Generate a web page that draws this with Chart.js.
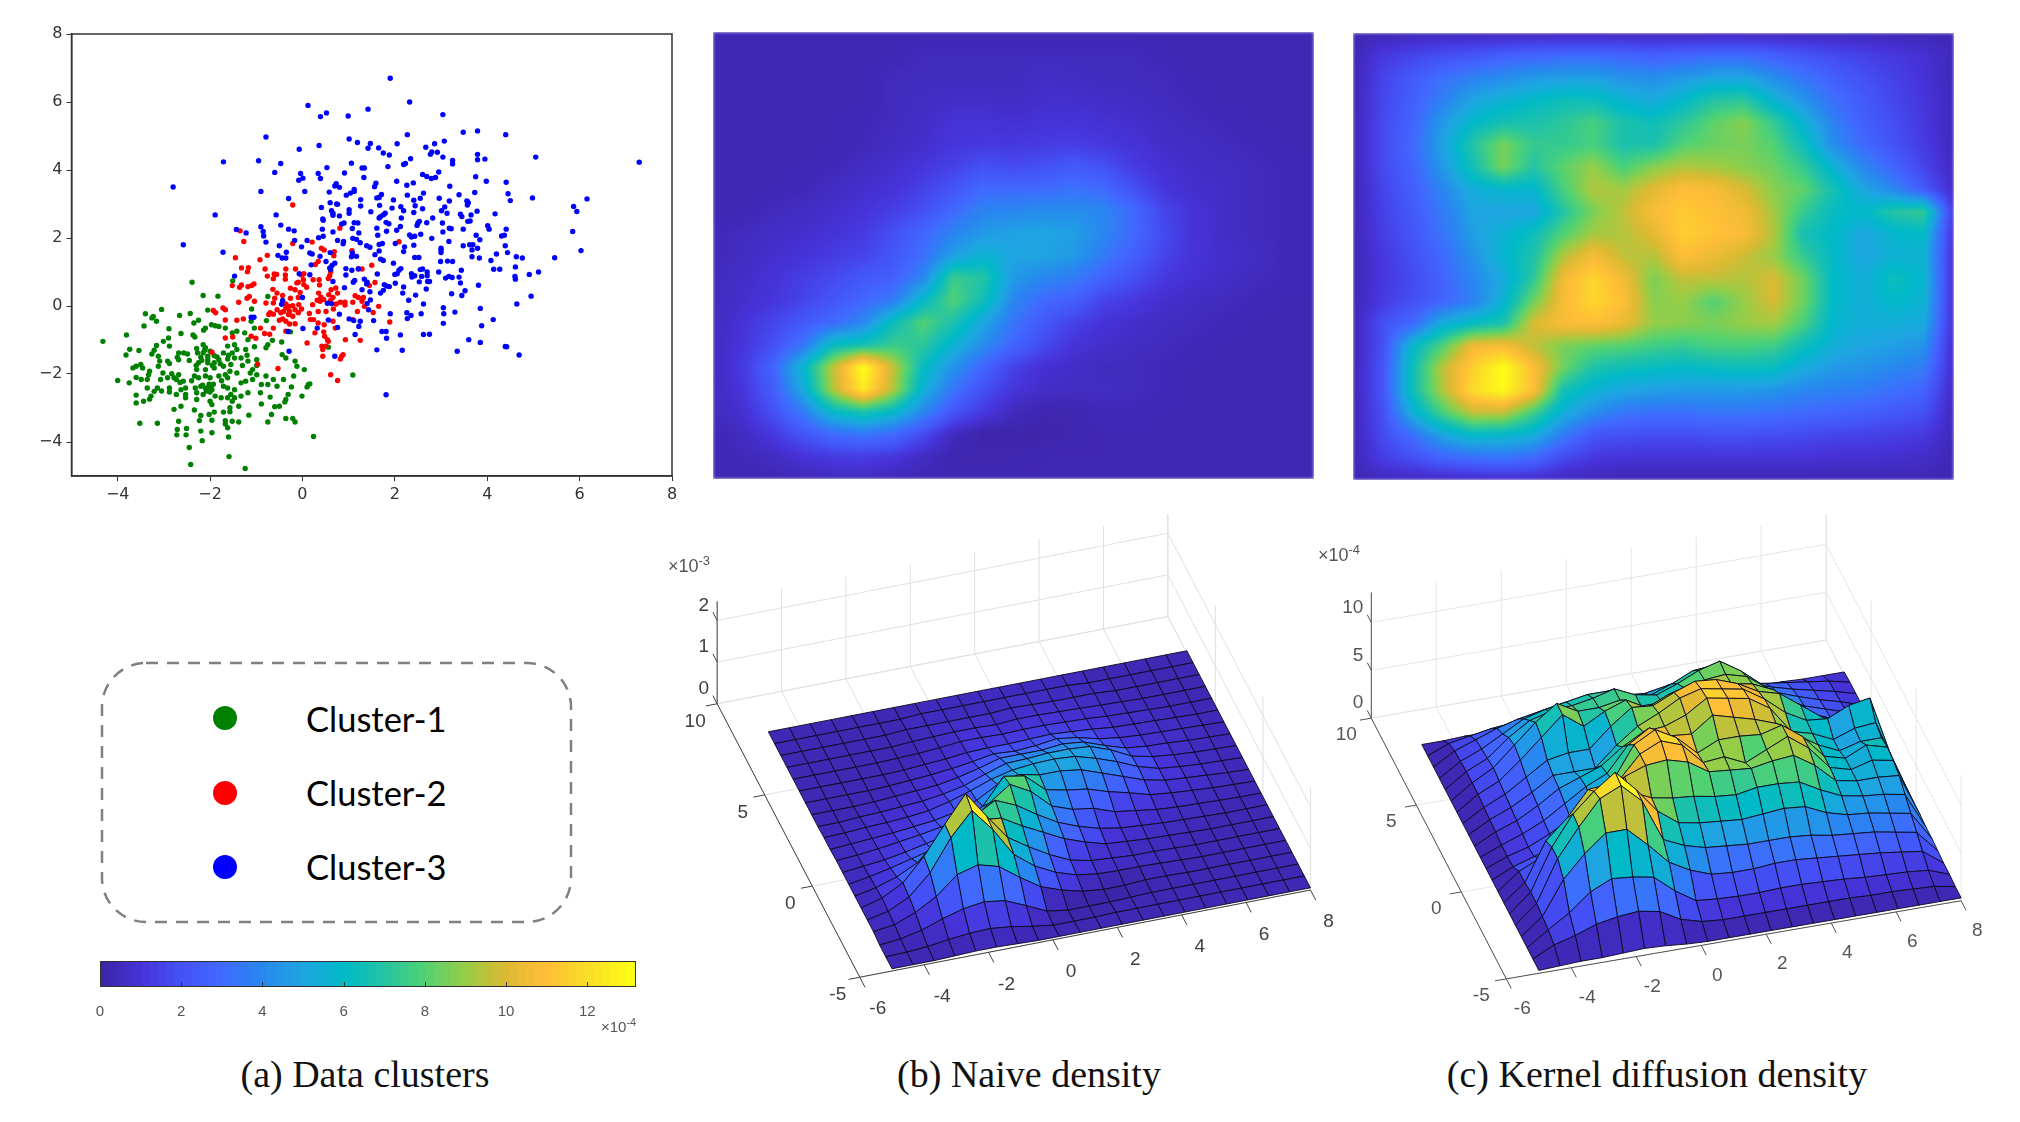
<!DOCTYPE html>
<html><head><meta charset="utf-8">
<script src="https://cdn.jsdelivr.net/npm/chart.js@4"></script>
<style>
html,body{margin:0;padding:0;background:#fff;width:2020px;height:1122px;overflow:hidden}
canvas{position:absolute;display:block}
.wrap{position:absolute;overflow:hidden}
.wrap canvas{left:0;top:0;filter:blur(1.4px)}
.t{position:absolute;white-space:nowrap}
.cap{font-family:"Liberation Serif",serif;font-size:38px;color:#111;transform:translateX(-50%);line-height:46px}
.leg{font-family:Lato,"Open Sans",sans-serif;font-size:34.5px;color:#000;line-height:40px}
.mul{font-family:"Liberation Sans",sans-serif;color:#555}
.mul sup{font-size:.72em;vertical-align:.55em;line-height:0}
</style></head><body>
<canvas id="scatter" width="700" height="510" style="left:0;top:0"></canvas>
<div class="wrap" style="left:713px;top:32px;width:601px;height:447px"><canvas id="heatB" width="601" height="447"></canvas></div>
<div class="wrap" style="left:1353px;top:33px;width:601px;height:447px"><canvas id="heatC" width="601" height="447"></canvas></div>
<canvas id="surfB" width="680" height="530" style="left:660px;top:500px"></canvas>
<canvas id="surfC" width="720" height="530" style="left:1300px;top:500px"></canvas>
<canvas id="bar" width="580" height="70" style="left:80px;top:955px"></canvas>

<svg width="520" height="300" style="position:absolute;left:80px;top:640px">
<rect x="22" y="23" width="469" height="259" rx="44" ry="44" fill="none" stroke="#808080" stroke-width="2.5" stroke-dasharray="12 9"/>
<circle cx="145" cy="78" r="12" fill="#008000"/><circle cx="145" cy="153" r="12" fill="#ff0000"/><circle cx="145" cy="227" r="12" fill="#0000ff"/>
</svg>
<div class="t leg" style="left:306px;top:699px">Cluster-1</div>
<div class="t leg" style="left:306px;top:773px">Cluster-2</div>
<div class="t leg" style="left:306px;top:847px">Cluster-3</div>
<div class="t mul" style="right:1384px;top:1018px;font-size:15px">×10<sup>-4</sup></div>
<div class="t mul" style="left:668px;top:556px;font-size:18px">×10<sup>-3</sup></div>
<div class="t mul" style="left:1318px;top:545px;font-size:18px">×10<sup>-4</sup></div>
<div class="t cap" style="left:365px;top:1051px">(a) Data clusters</div>
<div class="t cap" style="left:1029px;top:1051px">(b) Naive density</div>
<div class="t cap" style="left:1657px;top:1051px">(c) Kernel diffusion density</div>

<script>
// ---------- scatter data (x, y) ----------
const clusterBlue=[[1.9,6.7],[2.32,6],[.12,5.9],[.52,5.68],[.39,5.57],[.99,5.59],[1.42,5.79],[3.04,5.63],[3.48,5.11],[3.79,5.15],[4.4,5.04],[2.27,5.04],[-.79,4.97],[1.01,4.91],[1.19,4.81],[.36,4.72],[-.07,4.61],[1.47,4.78],[1.42,4.64],[1.65,4.65],[2.05,4.77],[2.67,4.67],[2.86,4.77],[3.07,4.85],[1.75,4.5],[1.88,4.44],[2.8,4.53],[2.92,4.52],[2.77,4.46],[3.04,4.38],[2.34,4.33],[3.79,4.46],[3.79,4.3],[3.95,4.32],[5.05,4.38],[7.29,4.23],[-1.71,4.24],[-.95,4.27],[-.47,4.19],[1.06,4.2],[3.25,4.28],[3.25,4.18],[2.23,4.19],[2.19,4.16],[.53,4.07],[1.29,4.06],[1.34,4.06],[1.85,4.1],[-.6,3.93],[-.04,3.9],[.34,3.9],[.91,3.91],[2.6,3.87],[2.69,3.81],[2.79,3.75],[2.88,3.78],[2.95,3.94],[1.33,3.78],[3.75,3.8],[.01,3.76],[-.08,3.7],[.39,3.75],[3.98,3.67],[2.04,3.67],[4.41,3.64],[1.59,3.61],[1.56,3.51],[.73,3.6],[.7,3.53],[.8,3.49],[2.4,3.62],[2.26,3.55],[3.19,3.52],[-2.8,3.5],[-.9,3.37],[.05,3.37],[.58,3.35],[1.12,3.43],[1.12,3.37],[1.04,3.32],[.95,3.26],[2.62,3.32],[3.73,3.34],[3.39,3.27],[4.45,3.3],[1.71,3.28],[1.66,3.19],[1.61,3.18],[4.98,3.18],[6.16,3.15],[2.27,3.26],[2.55,3.17],[2.41,3.11],[2.96,3.17],[4.5,3.1],[1.97,3.12],[-.3,3.16],[1.26,3.13],[3.18,3.09],[3.56,3.09],[3.59,3.04],[3.57,2.97],[.6,3.04],[.74,3],[.76,2.99],[1.67,2.96],[1.26,2.94],[2.13,2.92],[2.44,2.95],[5.87,2.93],[5.94,2.78],[.41,2.9],[1.94,2.88],[3.08,2.91],[2.6,2.86],[1.01,2.83],[2.19,2.8],[3.01,2.8],[1.48,2.77],[2.41,2.75],[3.78,2.79],[.63,2.8],[.66,2.73],[3.13,2.73],[3.42,2.7],[4.17,2.71],[3.45,2.63],[1.01,2.73],[1.79,2.73],[1.75,2.68],[1.69,2.63],[-.57,2.68],[-1.89,2.68],[.66,2.67],[.8,2.65],[1.66,2.59],[2.14,2.59],[2.82,2.59],[.44,2.56],[.45,2.52],[3.65,2.68],[3.63,2.5],[3.58,2.49],[2.53,2.49],[2.69,2.45],[2.5,2.44],[.9,2.44],[1.12,2.45],[1.2,2.44],[1.81,2.46],[1.87,2.42],[3.03,2.44],[2.48,2.37],[-.47,2.38],[.85,2.41],[-.9,2.33],[2.12,2.34],[1.61,2.29],[4.01,2.36],[4.04,2.26],[3.18,2.29],[3.22,2.27],[3.48,2.26],[4.41,2.26],[1.08,2.28],[.43,2.26],[1.82,2.2],[3.04,2.18],[-.3,2.26],[-.18,2.21],[-.85,2.19],[-1.43,2.25],[-1.22,2.15],[2.04,2.23],[.66,2.18],[5.85,2.19],[1.22,2.15],[1.63,2.08],[-.84,2.06],[2.32,2.09],[2.36,2.03],[2.43,2.05],[2.56,2.11],[3.76,2.08],[4.31,2.06],[4.37,2.08],[.45,2.05],[.35,2.01],[2.8,1.99],[1.09,1.99],[1.17,1.96],[3.84,1.95],[-.17,1.93],[.1,1.93],[-.79,1.88],[.76,1.93],[.89,1.9],[3.17,1.9],[1.25,1.86],[.88,1.83],[1.73,1.84],[1.66,1.81],[2.01,1.84],[-2.58,1.8],[4.39,1.77],[3.48,1.77],[3.62,1.8],[3.69,1.8],[2.41,1.79],[-.5,1.77],[-.02,1.74],[1.39,1.77],[1.46,1.73],[2.21,1.74],[3.79,1.7],[3,1.7],[3,1.64],[1.66,1.62],[3,1.57],[2.19,1.6],[3.67,1.65],[6.03,1.63],[-1.72,1.58],[-.35,1.58],[.16,1.56],[.21,1.53],[1.08,1.56],[.6,1.57],[4.2,1.53],[4.44,1.57],[-.53,1.49],[1.57,1.51],[1.06,1.45],[1.17,1.46],[3.67,1.45],[4.63,1.45],[4.76,1.41],[5.46,1.42],[.38,1.46],[-.44,1.41],[-.36,1.41],[2.43,1.43],[2.52,1.43],[3.83,1.41],[1.69,1.38],[1.75,1.34],[.51,1.31],[3.14,1.32],[3.25,1.31],[2.99,1.31],[4.08,1.34],[1.97,1.26],[.19,1.21],[.7,1.26],[.64,1.19],[4.61,1.15],[1.21,1.09],[.94,1.1],[4.14,1.08],[4.27,1.08],[2.13,1.1],[2.09,1.05],[1.07,1.05],[3.44,1.05],[2.55,1.07],[2.6,1.09],[.61,1.07],[.59,1.12],[2.7,1],[5.11,1],[2,.93],[2.05,.95],[2.95,1],[4.91,.93],[1.62,.94],[-.07,.95],[.16,.92],[.94,.91],[2.36,.95],[2.37,.85],[2.43,.89],[2.58,.87],[2.7,.89],[4.6,.87],[4.61,.79],[3.39,.85],[3.1,.82],[3.17,.87],[3.24,.84],[-1.47,.88],[1.34,.79],[1.13,.75],[1.1,.7],[1.4,.7],[1.39,.65],[.66,.72],[2.01,.67],[2.53,.71],[2.71,.72],[2.75,.72],[3.42,.68],[3.81,.61],[2.19,.56],[1.77,.63],[1.82,.59],[1.88,.57],[.91,.54],[1.29,.48],[2.68,.5],[3.52,.45],[1.75,.46],[1.69,.38],[1.46,.42],[2.17,.38],[2.45,.32],[3.23,.36],[3.45,.31],[4.95,.29],[2.3,.17],[-.43,.16],[0,.25],[1.47,.18],[4.64,.06],[2.62,.06],[-.45,.05],[1.4,.07],[.54,.08],[.63,.07],[3.05,-.05],[3.85,-.07],[1.43,-.11],[3.3,-.18],[2.26,-.2],[.8,-.24],[2.57,-.23],[1.9,-.23],[3.06,-.23],[2.35,-.28],[2.27,-.37],[-1.11,-.33],[-1.05,-.33],[4.13,-.4],[1.01,-.38],[1.11,-.43],[1.25,-.45],[.56,-.41],[1.54,-.43],[3.05,-.51],[1.22,-.6],[.76,-.63],[3.88,-.58],[.01,-.66],[.32,-.65],[1.72,-.75],[1.81,-.75],[-.31,-.75],[1.14,-.84],[2.12,-.85],[2.62,-.84],[2.75,-.83],[1.82,-.95],[3.6,-.99],[3.85,-1.07],[4.39,-1.19],[4.42,-1.2],[1.61,-1.29],[2.16,-1.3],[3.35,-1.33],[-.29,-1.33],[4.69,-1.44],[.7,-1.48],[1.81,-2.61]];
const clusterRed=[[-.21,2.97],[.81,2.29],[-1.35,2.21],[-1.27,1.9],[2.09,1.89],[-.21,1.84],[.21,1.88],[.41,1.7],[.47,1.65],[.69,1.6],[1.07,1.63],[.68,1.48],[-.76,1.49],[-1.45,1.42],[-.92,1.36],[.34,1.31],[.28,1.22],[1.5,1.2],[-1.32,1.12],[-1.17,1.13],[-1.19,1.01],[-.81,1.09],[-.36,1.09],[-.15,1.09],[1.21,1.1],[1.29,1.09],[.61,1.01],[-.61,.94],[-.56,.93],[-.37,.91],[.03,.95],[-.02,.91],[-.76,.88],[.59,.89],[.56,.81],[-.63,.8],[-.37,.79],[.23,.77],[.36,.77],[.02,.77],[1.57,.69],[-.09,.7],[-.12,.68],[-1.52,.6],[-1.32,.62],[-1.36,.55],[-1.18,.57],[-1.05,.65],[-1.1,.6],[1.45,.6],[.03,.63],[.09,.55],[-.26,.52],[-.16,.48],[-.64,.49],[.37,.62],[-.55,.38],[.62,.48],[.72,.53],[.35,.38],[-.05,.4],[-.43,.31],[-1.15,.28],[-1.2,.23],[1.14,.3],[1.21,.25],[1.32,.25],[.57,.33],[.66,.25],[.76,.38],[.4,.26],[-.6,.23],[-.09,.25],[-.26,.23],[.32,.17],[.38,.14],[.46,.19],[.61,.16],[.82,.11],[.92,.11],[1.29,.14],[1.09,.11],[-.63,.09],[-.79,.09],[-1.38,.11],[-1.04,.14],[-.36,.06],[-.29,-.01],[-.21,.01],[-.08,.04],[.22,.04],[.73,.06],[1.65,-.01],[.67,-.09],[.92,.03],[1.19,-.16],[1.34,-.01],[1.53,-.19],[-.36,-.06],[-.41,-.16],[-.28,-.16],[-.16,-.11],[-.02,-.09],[-.55,-.11],[-.7,-.2],[-.73,-.25],[-.63,-.24],[-.47,-.2],[-.3,-.25],[-.09,-.2],[.15,-.22],[.34,-.16],[.51,-.16],[-1.93,-.13],[-1.88,-.2],[-1.67,-.11],[-1.72,-.06],[-1.28,-.38],[-1.42,-.42],[-1.67,-.41],[-.43,-.38],[-.5,-.42],[-.36,-.45],[-.21,-.3],[.17,-.4],[.24,-.4],[.34,-.5],[-.16,-.52],[-.28,-.53],[1.89,-.47],[1.09,-.4],[.47,-.55],[.66,-.45],[.71,-.65],[-.63,-.65],[-.91,-.65],[-.36,-.74],[-.82,-.81],[-.71,-.83],[.46,-.76],[.27,-.79],[.48,-.89],[-1.11,-.89],[-1.01,-.95],[-1.67,-.94],[-1.51,-.91],[.54,-.99],[.56,-1.04],[.93,-.99],[1.25,-1.01],[.1,-1.09],[.42,-1.18],[.44,-1.28],[-1.96,-1.36],[.88,-1.43],[.44,-1.48],[.85,-1.48],[.82,-1.56],[-.97,-1.71],[-.53,-1.84],[.61,-2.02],[.76,-2.19],[.51,-1.18]];
const clusterGreen=[[-2.39,.7],[-1.51,.74],[-2.15,.31],[-1.83,.29],[-.75,.28],[-3.05,-.1],[-2.05,-.12],[-3.4,-.23],[-3.26,-.35],[-3.16,-.45],[-3.23,-.31],[-2.66,-.28],[-2.43,-.22],[-2.25,-.42],[-2.35,-.5],[-1.1,-.09],[-3.43,-.59],[-2.89,-.67],[-3.81,-.85],[-2.63,-.81],[-2.37,-.85],[-2.33,-.91],[-4.32,-1.04],[-1.97,-.55],[-1.81,-.6],[-1.89,-.58],[-1.67,-.65],[-1.52,-.79],[-2.1,-.65],[-2.14,-.71],[-1.42,-.74],[-1.25,-.79],[-.78,-.43],[-1.04,-.65],[-1.11,-.45],[-.26,-.76],[-.45,-1.06],[-.65,-1.01],[-2.9,-.94],[-3.01,-1.04],[-3.16,-1.16],[-3.21,-1.3],[-3.26,-1.41],[-3.74,-1.27],[-3.54,-1.31],[-3.82,-1.44],[-2.88,-1.18],[-2.68,-1.38],[-2.57,-1.38],[-2.71,-1.51],[-2.68,-1.58],[-2.49,-1.41],[-2.29,-1.25],[-2.15,-1.14],[-2.1,-1.23],[-2,-1.33],[-2.27,-1.38],[-2.15,-1.38],[-2.2,-1.51],[-2.05,-1.48],[-1.91,-1.46],[-1.81,-1.58],[-1.71,-1.38],[-1.62,-1.18],[-1.47,-1.14],[-1.42,-1.28],[-1.23,-1.28],[-1.18,-.99],[-1.04,-1.2],[-.79,-1.23],[-.75,-1.14],[-1.52,-1.38],[-1.33,-1.53],[-1.47,-1.53],[-1.62,-1.56],[-1.91,-1.67],[-2.05,-1.67],[-2.25,-1.67],[-.99,-1.58],[-1.18,-1.62],[-.44,-1.43],[-.36,-1.53],[-.16,-1.62],[-.12,-1.77],[.04,-1.87],[.56,-1.21],[-3.12,-1.48],[-3.09,-1.62],[-2.92,-1.62],[-2.88,-1.69],[-3.12,-1.77],[-3.6,-1.77],[-3.5,-1.72],[-3.46,-1.82],[-3.67,-1.82],[-3.31,-1.92],[-3.02,-1.97],[-2.83,-1.99],[-2.68,-2.02],[-2.29,-1.87],[-2.1,-1.87],[-1.91,-1.82],[-1.71,-1.77],[-1.57,-1.92],[-1.42,-1.97],[-1.08,-1.87],[-.99,-1.75],[-1.13,-1.97],[-.79,-2.06],[-.63,-2.16],[-.41,-2.16],[-.19,-2.06],[.13,-2.31],[.16,-2.29],[.1,-2.38],[1.09,-2.03],[-4,-2.19],[-3.75,-2.26],[-3.49,-2.16],[-3.36,-2.16],[-3.33,-2.02],[-3.07,-2.16],[-2.92,-2.11],[-2.73,-2.16],[-2.58,-2.21],[-2.78,-2.11],[-2.34,-2.06],[-2.25,-2.11],[-2.1,-2.06],[-2,-2.11],[-1.81,-2.06],[-1.67,-2.02],[-1.62,-2.11],[-1.33,-2.26],[-1.23,-2.21],[-1.08,-2.16],[-.99,-2.02],[-.75,-2.31],[-.89,-2.31],[-.55,-2.36],[-.24,-2.38],[-3.36,-2.41],[-3.14,-2.41],[-2.88,-2.41],[-2.63,-2.46],[-2.53,-2.41],[-2.32,-2.41],[-2.2,-2.36],[-2.05,-2.41],[-1.96,-2.46],[-1.71,-2.36],[-1.62,-2.41],[-1.47,-2.46],[-1.18,-2.55],[-3.21,-2.51],[-2.88,-2.53],[-2.53,-2.6],[-2.29,-2.55],[-2.15,-2.6],[-2,-2.53],[-3.6,-2.62],[-3.28,-2.65],[-2.73,-2.6],[-.31,-2.6],[-.01,-2.65],[-1.89,-2.65],[-1.76,-2.7],[-1.62,-2.7],[-1.47,-2.7],[-1.33,-2.65],[-.91,-2.55],[-.7,-2.68],[-3.31,-2.74],[-3.44,-2.8],[-3.6,-2.85],[-2.53,-2.7],[-2.29,-2.75],[-2,-2.8],[-1.52,-2.8],[-.36,-2.75],[-.38,-2.82],[-.89,-2.88],[-2.63,-2.95],[-2.78,-3.04],[-2.34,-3.06],[-1.96,-2.9],[-1.38,-2.95],[-1.57,-2.99],[-.6,-2.96],[-.5,-2.95],[-1.91,-3.12],[-1.71,-3.12],[-1.57,-3.11],[-2.02,-3.19],[-2.2,-3.22],[-1.16,-3.21],[-.67,-3.19],[-.36,-3.31],[-.21,-3.31],[-.16,-3.41],[-.75,-3.41],[-2.68,-3.39],[-2.23,-3.37],[-1.96,-3.36],[-1.67,-3.37],[-1.52,-3.39],[-1.38,-3.41],[-3.52,-3.45],[-3.14,-3.45],[-2.51,-3.6],[-2.71,-3.63],[-2.72,-3.79],[-2.52,-3.79],[-2.2,-3.68],[-1.96,-3.73],[-1.6,-3.85],[.24,-3.84],[-2.17,-3.96],[-2.45,-4.16],[-1.59,-4.43],[-2.42,-4.66],[-1.24,-4.78],[-1.62,-3.58],[-1.67,-3.47],[-2.02,-2.3],[-2.1,-2.42],[-1.98,-2.38],[-2.16,-2.33],[-2.08,-2.5],[-1.93,-2.3],[-2.05,-1.58],[-2.18,-1.6],[-1.85,-1.5],[-1.95,-1.75],[-1.78,-1.7],[-2.12,-1.3],[-1.6,-1.45],[-1.55,-1.72],[-1.75,-2.2],[-1.55,-2.6],[-2.3,-1.75],[-2.4,-2.2],[-2.45,-1.6],[-1.3,-1.75],[-1.2,-1.45],[-3.6,-2.1],[-3.05,-2.5],[-2.65,-2.25]];
const axisTicksA=[-4,-2,0,2,4,6,8];

// ---------- density grids: nodes at gridX / gridY, rows listed from y = 8 down to y = -5 ----------
const gridX=[-5,-4.35,-3.7,-3.05,-2.4,-1.75,-1.1,-.45,.2,.85,1.5,2.15,2.8,3.45,4.1,4.75,5.4,6.05,6.7,7.35,8];
const gridY=[8,7.35,6.7,6.05,5.4,4.75,4.1,3.45,2.8,2.15,1.5,.85,.2,-.45,-1.1,-1.75,-2.4,-3.05,-3.7,-4.35,-5];
// (b) naive density, in colour-bar levels; the peak level 13.2 is 2.35 x 10^-3 on the z axis
const naiveLevels=[
[.3,.3,.3,.3,.3,.3,.3,.3,.3,.3,.3,.3,.3,.3,.3,.3,.3,.3,.3,.3,.3],
[.3,.3,.3,.3,.3,.3,.3,.5,.5,.5,.5,.5,.5,.5,.5,.3,.3,.3,.3,.3,.3],
[.3,.3,.3,.3,.3,.3,.5,.5,.5,.5,.5,.7,.6,.5,.5,.5,.3,.3,.3,.3,.3],
[.3,.3,.3,.3,.3,.3,.5,.6,.7,.7,.6,.8,.8,.7,.6,.5,.4,.3,.3,.3,.3],
[.3,.3,.3,.3,.3,.4,.5,.7,1,1,.9,1,1,.9,.8,.6,.5,.4,.3,.3,.3],
[.3,.3,.3,.3,.3,.4,.6,.8,1.1,1.2,1.2,1.3,1.4,1.2,1,.7,.6,.5,.4,.3,.3],
[.3,.3,.3,.3,.4,.6,.8,1.1,1.5,2,1.8,2,2.4,2,1.3,.9,.7,.6,.5,.4,.3],
[.3,.3,.3,.4,.6,.8,1,1.5,2.2,3,3,3,3.3,3,2,1.1,.8,.7,.5,.4,.3],
[.3,.3,.5,.6,.8,1,1.4,2,3,3.9,4,4.2,4.2,4,3,1.6,1,.7,.5,.4,.3],
[.4,.5,.7,.8,1,1.3,2,2.9,3.9,4.6,4.9,5,4.8,4,3,1.8,1,.7,.5,.4,.3],
[.4,.6,.8,1,1.3,1.6,2.2,3.2,4.8,5.6,5,5,4.6,3.6,2.6,1.6,1,.8,.6,.4,.3],
[.5,.7,1,1.4,1.8,2.3,2.6,4,7.5,7,4.6,4,3.6,2.7,2,1.2,.9,.7,.5,.4,.3],
[.5,.8,1.1,1.6,2.2,2.9,3.6,6,8,6.5,4,3,2.6,1.6,1.2,.8,.6,.5,.4,.3,.3],
[.5,1,1.6,2.3,3,4,6.4,8,6.8,5,3.4,2.3,1.5,1,.8,.6,.5,.4,.3,.3,.3],
[.5,1.1,2,3.4,6.2,6.6,7.5,7.2,5.6,4.2,2.8,1.8,1,.8,.6,.5,.4,.3,.3,.3,.3],
[.5,1.3,2.8,5.8,9.6,13.2,9.6,6.2,4.4,2.8,1.5,.9,.7,.5,.5,.4,.3,.3,.3,.3,.3],
[.5,1.1,2.5,5.2,9.4,12.5,9.4,5.5,3.4,2,1.1,.7,.6,.6,.5,.4,.3,.3,.3,.3,.3],
[.5,.9,2,3.6,6,6.8,6,4,2.2,1.2,.5,.2,.2,.4,.4,.3,.3,.3,.3,.3,.3],
[.3,.6,1.2,2.2,3,3.4,3,1.8,.5,.1,.1,.1,.2,.3,.3,.3,.3,.3,.3,.3,.3],
[.3,.4,.6,1,1.3,1.4,1.1,.6,.2,.2,.2,.3,.3,.3,.3,.3,.3,.3,.3,.3,.3],
[.3,.3,.3,.4,.5,.5,.4,.3,.3,.3,.3,.3,.3,.3,.3,.3,.3,.3,.3,.3,.3]];
// (c) kernel diffusion density, in units of 10^-4
const diffusionLevels=[
[.3,.3,.4,.4,.4,.4,.4,.4,.4,.4,.4,.4,.4,.4,.4,.4,.4,.4,.3,.3,.3],
[.3,1.2,1.6,2,2.2,2.6,2.8,3,3,2.8,2.6,2.8,3,3,2.6,2.2,1.8,1.5,1.2,.9,.4],
[.3,1.6,2.4,3.2,3.8,4.2,4.6,4.8,4.8,4.4,4.2,4.6,5,5,4.2,3.4,2.6,2,1.5,1,.4],
[.3,1.7,2.6,3.8,5,5.6,6,6.4,6.4,5.6,5.2,6,7,7.2,5.6,4.4,3.2,2.4,1.7,1.1,.4],
[.3,1.8,2.8,4.6,6,6.6,6.8,7.2,7.8,6.8,6.4,7.2,8.2,8.8,7.4,5.6,3.8,2.6,1.9,1.2,.4],
[.3,1.8,3,5,7,8.6,7.4,7.4,7.8,6.8,6.8,8,8.4,8.6,8,6.4,4.2,3,2.1,1.3,.4],
[.3,1.8,2.8,4.6,6.6,8.6,7,8.2,9,7.8,8.8,9.4,9.2,8.8,8.4,7.4,5.6,4,2.8,1.6,.5],
[.3,1.6,2.6,4,5.4,5.8,5.8,7.8,9.4,9.2,10.2,11,10.8,10,8.8,8.2,6.6,5,4,2.4,.6],
[.3,1.5,2.4,3.6,5,5,5,7,8.6,9.6,10.8,11.4,11,10.6,9.2,7.4,6.2,6,7,7.4,1],
[.3,1.4,2.2,3.4,4.8,5.6,6.4,8,9.2,9.4,10.2,11.6,11.2,10.8,9.4,6.6,6,5,5.8,6,.8],
[.3,1.2,2,3,4.4,5.8,6.8,9.4,10.8,9.6,9.4,11,10.4,9.8,9,7.4,6,5,5.6,5.6,.7],
[.3,1.2,1.8,2.8,4,5.2,7.2,10.6,11.8,10.6,8.6,9.6,9.6,9.4,10,8.4,6,5.4,6.4,5.8,.7],
[.3,1.3,2,2.8,3.8,5.6,8.4,10.8,11.8,11,8.8,9,8,9,10,8.4,6,5.4,6,5.6,.7],
[.3,2,3,5.4,6.2,6.8,10,10.8,11,10.4,9,8.8,8.6,9,9.2,7.8,5.8,5.4,5.4,5.2,.7],
[.3,2,6,8,10.6,10.8,9.6,8.6,8.2,8,7.6,7.4,7.8,7.8,7.6,6.4,5.4,5,4.8,4.4,.6],
[.3,2.2,6.5,9.6,11.6,13.2,11,8.4,6.8,6.4,6.2,6,6.2,6.4,6.2,5.2,4.6,4.4,4,3.6,.6],
[.3,2.2,6.5,9.4,12,13,11,6.6,5.6,5,4.8,4.6,4.6,4.6,4.4,4,3.8,3.6,3.2,2.8,.5],
[.3,2,5.5,7.8,9.6,9.6,7.6,5.4,4.2,3.4,3.2,3.2,3.4,3.4,3.2,3,2.8,2.6,2.3,2,.4],
[.3,1.8,3.2,5,6,5.8,5.4,3.6,2.2,2,1.9,1.9,2,2,1.9,1.8,1.6,1.5,1.4,1.2,.4],
[.3,1.4,2,2.8,3.2,3.4,3,1.8,1.2,1,1,1,1,1,1,1,.9,.9,.8,.7,.3],
[.3,.4,.5,.5,.6,.7,.6,.4,.3,.3,.3,.3,.3,.3,.3,.3,.3,.3,.3,.3,.3]];
// colour map stops: level, r, g, b
const colorStops=[[0,60,35,165],[1,70,50,215],[2,68,80,245],[3,65,105,255],[4,40,135,240],[5,30,165,225],[6,0,185,200],[7,35,195,165],[8,80,210,115],[9,150,205,70],[10,220,185,50],[11,255,190,55],[12,250,220,40],[13.2,255,255,20]];
const colorbarTicks=[0,2,4,6,8,10,12];
const zTicksB=[0,1,2], zTicksC=[0,5,10];
const xTicks3D=[-6,-4,-2,0,2,4,6,8], yTicks3D=[-5,0,5,10];

function levelRGB(v){
  const s=colorStops;
  if(v<=s[0][0])return s[0].slice(1);
  for(let k=1;k<s.length;k++)if(v<=s[k][0]){
    const t=(v-s[k-1][0])/(s[k][0]-s[k-1][0]);
    return [1,2,3].map(c=>s[k-1][c]+(s[k][c]-s[k-1][c])*t);
  }
  return s[s.length-1].slice(1);
}
const css=a=>`rgb(${a.map(Math.round).join(',')})`;
const base={responsive:false,animation:false,events:[],devicePixelRatio:1,
  plugins:{legend:{display:false},tooltip:{enabled:false},title:{display:false}}};

// ---------- (a) scatter ----------
const toPts=a=>a.map(p=>({x:p[0],y:p[1]}));
const fixTicks=s=>{s.ticks=axisTicksA.map(v=>({value:v}));};
const axisA=(extra)=>Object.assign({type:'linear',min:-5,max:8,afterBuildTicks:fixTicks,
  grid:{drawOnChartArea:false,color:'#333',tickLength:5,tickWidth:1},
  border:{color:'#333',width:1.5},
  ticks:{autoSkip:false,maxRotation:0,color:'#333',font:{family:'"DejaVu Sans"',size:16},padding:4,
    callback:v=>String(v).replace('-','\u2212')}},extra);
new Chart(document.getElementById('scatter'),{type:'scatter',
  data:{datasets:[
    {label:'Cluster-1',data:toPts(clusterGreen),backgroundColor:'#008000',order:3},
    {label:'Cluster-2',data:toPts(clusterRed),backgroundColor:'#ff0000',order:2},
    {label:'Cluster-3',data:toPts(clusterBlue),backgroundColor:'#0000ff',order:1}]},
  options:Object.assign({},base,{
    layout:{padding:{top:34,right:28,left:0,bottom:0}},
    elements:{point:{radius:2.7,borderWidth:0}},
    scales:{x:axisA({afterFit:s=>{s.height=34;}}),y:axisA({afterFit:s=>{s.width=71.5;}})}}),
  plugins:[{id:'frame',afterDatasetsDraw(c){const a=c.chartArea,x=c.ctx;x.save();x.strokeStyle='#333';x.lineWidth=1.5;
    x.strokeRect(a.left,a.top,a.right-a.left,a.bottom-a.top);x.restore();}}]
});

// ---------- (b)(c) top-view density maps, interpolated between grid nodes ----------
function nodePoints(levels){const out=[];
  levels.forEach((r,j)=>r.forEach((v,i)=>out.push({x:gridX[i],y:gridY[j],v})));return out;}
const shade={id:'shade',beforeDatasetsDraw(c){
  const a=c.chartArea,W=Math.round(a.right-a.left),H=Math.round(a.bottom-a.top);
  const n=gridX.length,pts=c.data.datasets[0].data,img=c.ctx.createImageData(W,H);
  const step=gridX[1]-gridX[0];
  for(let py=0;py<H;py++){const vy=c.scales.y.getValueForPixel(a.top+py+.5);
    const fy=(gridY[0]-vy)/step,j=Math.min(n-2,Math.max(0,Math.floor(fy))),ty=fy-j;
    for(let px=0;px<W;px++){const vx=c.scales.x.getValueForPixel(a.left+px+.5);
      const fx=(vx-gridX[0])/step,i=Math.min(n-2,Math.max(0,Math.floor(fx))),tx=fx-i;
      const g=(jj,ii)=>pts[jj*n+ii].v;
      const v=(g(j,i)*(1-tx)+g(j,i+1)*tx)*(1-ty)+(g(j+1,i)*(1-tx)+g(j+1,i+1)*tx)*ty;
      const rgb=levelRGB(v),o=(py*W+px)*4;
      img.data[o]=rgb[0];img.data[o+1]=rgb[1];img.data[o+2]=rgb[2];img.data[o+3]=255;}}
  c.ctx.putImageData(img,Math.round(a.left),Math.round(a.top));
}};
function heat(id,levels){
  new Chart(document.getElementById(id),{type:'scatter',
    data:{datasets:[{data:nodePoints(levels),pointRadius:0}]},
    options:Object.assign({},base,{layout:{padding:0},
      scales:{x:{type:'linear',min:-5,max:8,display:false},y:{type:'linear',min:-5,max:8,display:false}}}),
    plugins:[shade]});
}
heat('heatB',naiveLevels);heat('heatC',diffusionLevels);

// ---------- (b)(c) surfaces: orthographic projection onto page pixels ----------
function surface(cfg){
  const P=(x,y,z)=>({x:cfg.ox+cfg.xu[0]*x+cfg.yu[0]*y,y:cfg.oy+cfg.xu[1]*x+cfg.yu[1]*y-cfg.zu*z});
  const ds=[];
  const seg=(a,b,color,w)=>ds.push({type:'line',data:[P(...a),P(...b)],borderColor:color,borderWidth:w,pointRadius:0,fill:false,tension:0});
  const g=cfg.gridColor,zm=cfg.zMax;
  xTicks3D.forEach(x=>{seg([x,-5,0],[x,10,0],g,1);seg([x,10,0],[x,10,zm],g,1);});
  yTicks3D.forEach(y=>{seg([-6,y,0],[8,y,0],g,1);seg([8,y,0],[8,y,zm],g,1);});
  cfg.zTicks.forEach(z=>{seg([-6,10,z],[8,10,z],g,1);seg([8,-5,z],[8,10,z],g,1);});
  const ax=cfg.axisColor;
  seg([-6,-5,0],[8,-5,0],ax,1);seg([-6,-5,0],[-6,10,0],ax,1);seg([-6,10,0],[-6,10,zm],ax,1);
  xTicks3D.forEach(x=>seg([x,-5,0],[x,-5.55,0],ax,1));
  yTicks3D.forEach(y=>seg([-6,y,0],[-6.35,y,0],ax,1));
  cfg.zTicks.forEach(z=>seg([-6,10,z],[-6,10.45,z],ax,1));
  // faces back to front; colour of each face comes from its lowest-index corner
  const L=cfg.levels,n=gridX.length,Z=(j,i)=>L[j][i]*cfg.levelToZ;
  for(let j=0;j<n-1;j++)for(let i=n-2;i>=0;i--){
    const a=P(gridX[i],gridY[j+1],Z(j+1,i)),b=P(gridX[i+1],gridY[j+1],Z(j+1,i+1)),
          c=P(gridX[i+1],gridY[j],Z(j,i+1)),d=P(gridX[i],gridY[j],Z(j,i));
    ds.push({type:'line',data:[a,b,c,d,a],backgroundColor:css(levelRGB(L[j+1][i])),
      borderColor:'rgba(10,10,30,.9)',borderWidth:1,pointRadius:0,fill:'shape',tension:0});
  }
  ds.forEach((d,k)=>{d.order=ds.length-k;});
  const labels=[];
  xTicks3D.forEach(x=>labels.push({p:P(x,-5,0),dx:cfg.xl[0],dy:cfg.xl[1],t:String(x),a:'center'}));
  yTicks3D.forEach(y=>labels.push({p:P(-6,y,0),dx:cfg.yl[0],dy:cfg.yl[1],t:String(y),a:'center'}));
  cfg.zTicks.forEach(z=>labels.push({p:P(-6,10,z),dx:-8,dy:-15,t:String(z),a:'right'}));
  const el=document.getElementById(cfg.id);
  new Chart(el,{type:'line',data:{datasets:ds},
    options:Object.assign({},base,{layout:{padding:0},normalized:false,
      scales:{x:{type:'linear',display:false,min:cfg.left,max:cfg.left+el.width},
              y:{type:'linear',display:false,reverse:true,min:cfg.top,max:cfg.top+el.height}}}),
    plugins:[{id:'lab',afterDatasetsDraw(c){const x=c.ctx;x.save();x.fillStyle=cfg.textColor;
      x.font='19px "Liberation Sans"';x.textBaseline='middle';
      labels.forEach(l=>{x.textAlign=l.a;
        x.fillText(l.t,c.scales.x.getPixelForValue(l.p.x)+l.dx,c.scales.y.getPixelForValue(l.p.y)+l.dy);});
      x.restore();}}]});
}
surface({id:'surfB',left:660,top:500,levels:naiveLevels,levelToZ:2.35/13.2,zTicks:zTicksB,zMax:2.46,
  ox:1005.4,oy:848.7,xu:[32.19,-6.23],yu:[-9.51,-18.23],zu:41.67,
  gridColor:'#e0e0e0',axisColor:'#404040',textColor:'#404040',xl:[18,32],yl:[-22,18]});
surface({id:'surfC',left:1300,top:500,levels:diffusionLevels,levelToZ:1,zTicks:zTicksC,zMax:13.14,
  ox:1656.25,oy:858.5,xu:[32.49,-5.58],yu:[-9,-17.38],zu:9.57,
  gridColor:'#e6e6e6',axisColor:'#505050',textColor:'#555',xl:[16,30],yl:[-25,17]});

// ---------- colour bar ----------
const barLevels=[];for(let k=0;k<64;k++)barLevels.push((k+.5)*13.2/64);
new Chart(document.getElementById('bar'),{type:'bar',
  data:{datasets:[{data:barLevels.map(v=>({x:v,y:1})),backgroundColor:barLevels.map(v=>css(levelRGB(v))),
    barPercentage:1,categoryPercentage:1,borderWidth:0,inflateAmount:1}]},
  options:Object.assign({},base,{
    layout:{padding:{left:20,right:24,top:6,bottom:0}},
    scales:{
      x:{type:'linear',offset:false,min:0,max:13.2,afterBuildTicks:s=>{s.ticks=colorbarTicks.map(v=>({value:v}));},
        afterFit:s=>{s.height=38;},
        grid:{display:false},border:{display:false},
        ticks:{autoSkip:false,maxRotation:0,color:'#555',padding:8,font:{family:'"Liberation Sans"',size:15}}},
      y:{type:'linear',min:0,max:1,display:false}}}),
  plugins:[{id:'cb',afterDatasetsDraw(c){const a=c.chartArea,x=c.ctx;x.save();
    x.strokeStyle='#333';x.lineWidth=1;x.strokeRect(a.left+.5,a.top+.5,a.right-a.left-1,a.bottom-a.top-1);
    colorbarTicks.forEach(v=>{const p=Math.round(c.scales.x.getPixelForValue(v))+.5;
      x.beginPath();x.moveTo(p,a.bottom);x.lineTo(p,a.bottom-5);x.stroke();});
    x.restore();}}]});
</script>
</body></html>
